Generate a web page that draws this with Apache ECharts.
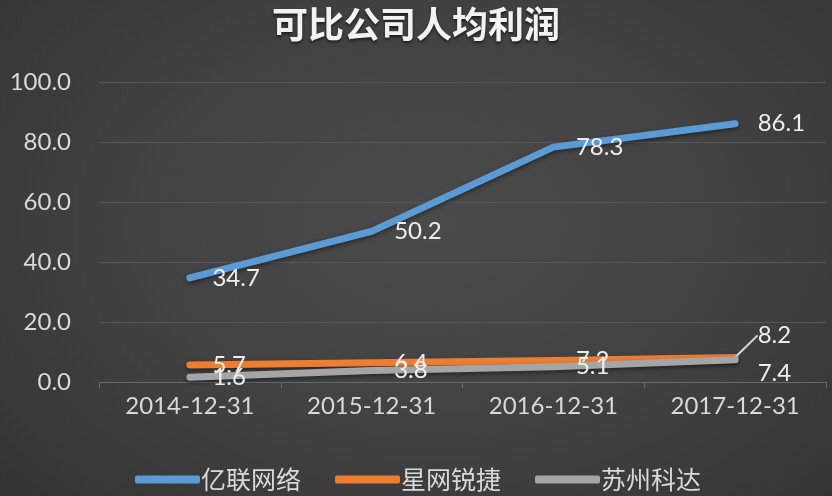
<!DOCTYPE html>
<html>
<head>
<meta charset="utf-8">
<script src="https://cdn.jsdelivr.net/npm/echarts@6/dist/echarts.min.js"></script>
<style>
html,body{margin:0;padding:0;width:832px;height:496px;overflow:hidden;
background:radial-gradient(ellipse 70% 80% at 52% 45%, #4a4a4a 0%, #424242 50%, #343434 100%);}
#chart{width:832px;height:496px;}
</style>
</head>
<body>
<div id="chart"></div>
<script>
const title = '可比公司人均利润';
const categories = ['2014-12-31', '2015-12-31', '2016-12-31', '2017-12-31'];
const seriesNames = ['亿联网络', '星网锐捷', '苏州科达'];
const yilian = [34.7, 50.2, 78.3, 86.1];
const xingwang = [5.7, 6.4, 7.2, 8.2];
const kedacom = [1.6, 3.8, 5.1, 7.4];
const yTicks = { min: 0, max: 100, interval: 20 };

const colors = ['#5b9bd5', '#ed7d31', '#a5a5a5'];
const numFont = 'Lato, "Liberation Sans", sans-serif';
const cjkFont = '"Noto Sans CJK SC", sans-serif';

function mkSeries(name, values, color, z, lastShift) {
  const last = values.length - 1;
  const data = values.map((v, i) =>
    (i === last && lastShift < 0) ? { value: v, labelLine: { show: true } } : v);
  return {
    name: name,
    type: 'line',
    data: data,
    showSymbol: true,
    symbol: 'circle',
    symbolSize: 1,
    z: z,
    lineStyle: { color: color, width: 7, cap: 'round', join: 'round',
      shadowColor: 'rgba(0,0,0,0.45)', shadowBlur: 4, shadowOffsetY: 2 },
    itemStyle: { color: color },
    label: { show: true, position: 'right', distance: 22, color: '#eeeeee',
      fontFamily: numFont, fontSize: 24, formatter: p => p.value.toFixed(1) },
    labelLine: { show: false, lineStyle: { color: '#d9d9d9', width: 2 } },
    labelLayout: function (p) {
      if (p.dataIndex === last && lastShift !== 0) {
        return { dy: lastShift };
      }
      return {};
    }
  };
}

const chart = echarts.init(document.getElementById('chart'));
chart.setOption({
  backgroundColor: 'transparent',
  animation: false,
  color: colors,
  title: {
    text: title, left: 'center', top: 1,
    textStyle: { color: '#f2f2f2', fontFamily: cjkFont, fontSize: 36, fontWeight: 'bold',
      textShadowColor: 'rgba(0,0,0,0.6)', textShadowBlur: 3, textShadowOffsetY: 2 }
  },
  grid: { left: 99, right: 6, top: 82, bottom: 114, containLabel: false },
  legend: {
    left: 130, top: 462,
    icon: 'roundRect', itemWidth: 65, itemHeight: 8, itemGap: 34,
    textStyle: { color: '#d9d9d9', fontFamily: cjkFont, fontSize: 25, padding: [0, 0, 0, -4] },
    data: seriesNames
  },
  xAxis: {
    type: 'category', data: categories, boundaryGap: true,
    axisLine: { lineStyle: { color: '#6a6a6a', width: 1 } },
    axisTick: { show: true, length: 6, lineStyle: { color: '#6a6a6a' } },
    axisLabel: { color: '#d9d9d9', fontFamily: numFont, fontSize: 24, margin: 12 }
  },
  yAxis: {
    type: 'value', min: yTicks.min, max: yTicks.max, interval: yTicks.interval,
    axisLine: { show: false }, axisTick: { show: false },
    splitLine: { lineStyle: { color: '#575757', width: 1 } },
    axisLabel: { color: '#d9d9d9', fontFamily: numFont, fontSize: 24, margin: 28,
      formatter: v => v.toFixed(1) }
  },
  series: [
    mkSeries(seriesNames[0], yilian, colors[0], 3, 0),
    mkSeries(seriesNames[1], xingwang, colors[1], 2, -22),
    mkSeries(seriesNames[2], kedacom, colors[2], 4, 13)
  ]
});
</script>
</body>
</html>
